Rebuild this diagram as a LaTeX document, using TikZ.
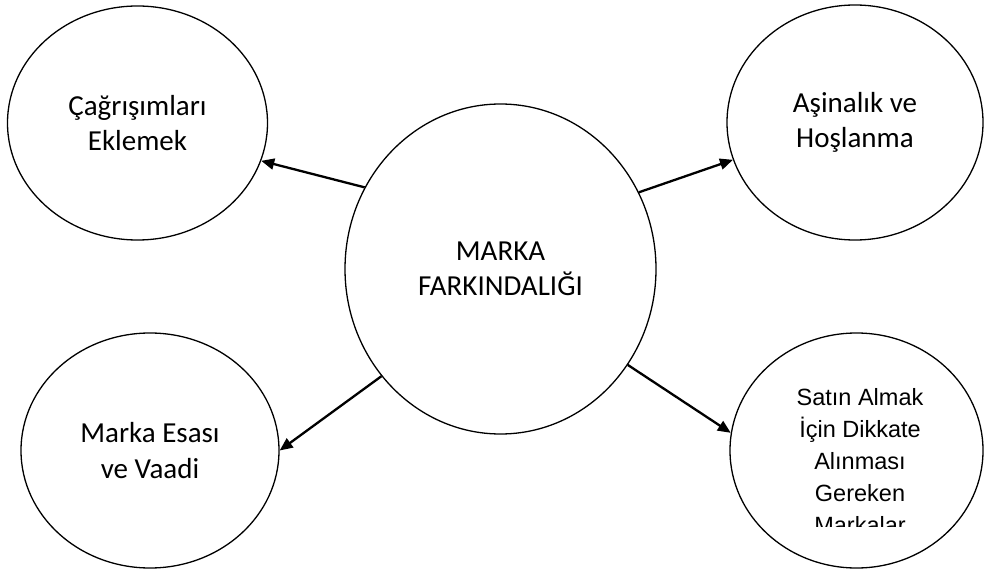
\documentclass[tikz,border=0pt]{standalone}
\usepackage{fontspec}
\setmainfont{Carlito}
\newfontfamily\arialfont{Liberation Sans}
\usetikzlibrary{arrows.meta,shapes.geometric}
\begin{document}
\begin{tikzpicture}[x=1pt,y=-1pt,
  bubble/.style={draw=black, line width=1.3pt, ellipse, inner sep=0pt,
    align=center, font=\fontsize{29}{35.5}\selectfont},
  link/.style={line width=2.3pt, -{Triangle[length=13pt,width=11pt]}}]
  \fill[white] (0,0) rectangle (985,569);
  \useasboundingbox (0,0) rectangle (985,569);

  % central concept
  \node[bubble, minimum width=311pt, minimum height=330pt] (core) at (500.5,269)
    {MARKA\\FARKINDALIĞI};

  % surrounding outcomes
  \node[bubble, minimum width=260pt, minimum height=234pt] (assoc) at (137.5,123)
    {Çağrışımları\\Eklemek};
  \node[bubble, minimum width=256pt, minimum height=235pt] (famil) at (855,122.5)
    {Aşinalık ve\\Hoşlanma};
  \node[bubble, minimum width=258pt, minimum height=235pt] (promise) at (150,450.5)
    {Marka Esası\\ve Vaadi};
  \node[bubble, minimum width=253pt, minimum height=235pt] (consider) at (856.5,450.5) {};

  % the last bubble's text box is cut off at its lower edge
  \begin{scope}
    \clip (700,380) rectangle (985,526);
    \node[align=center, inner sep=0pt, font=\arialfont\fontsize{23.5}{32}\selectfont]
      (considertext) at (860,460.8)
      {Satın Almak\\İçin Dikkate\\Alınması\\Gereken\\Markalar};
  \end{scope}

  % connectors
  \draw[link] (core.149.5) -- (assoc.-17);
  \draw[link] (core.29.7) -- (famil.-163);
  \draw[link] (core.222.4) -- (promise.0);
  \draw[link] (core.-37) -- (consider.172.6);
\end{tikzpicture}
\end{document}
